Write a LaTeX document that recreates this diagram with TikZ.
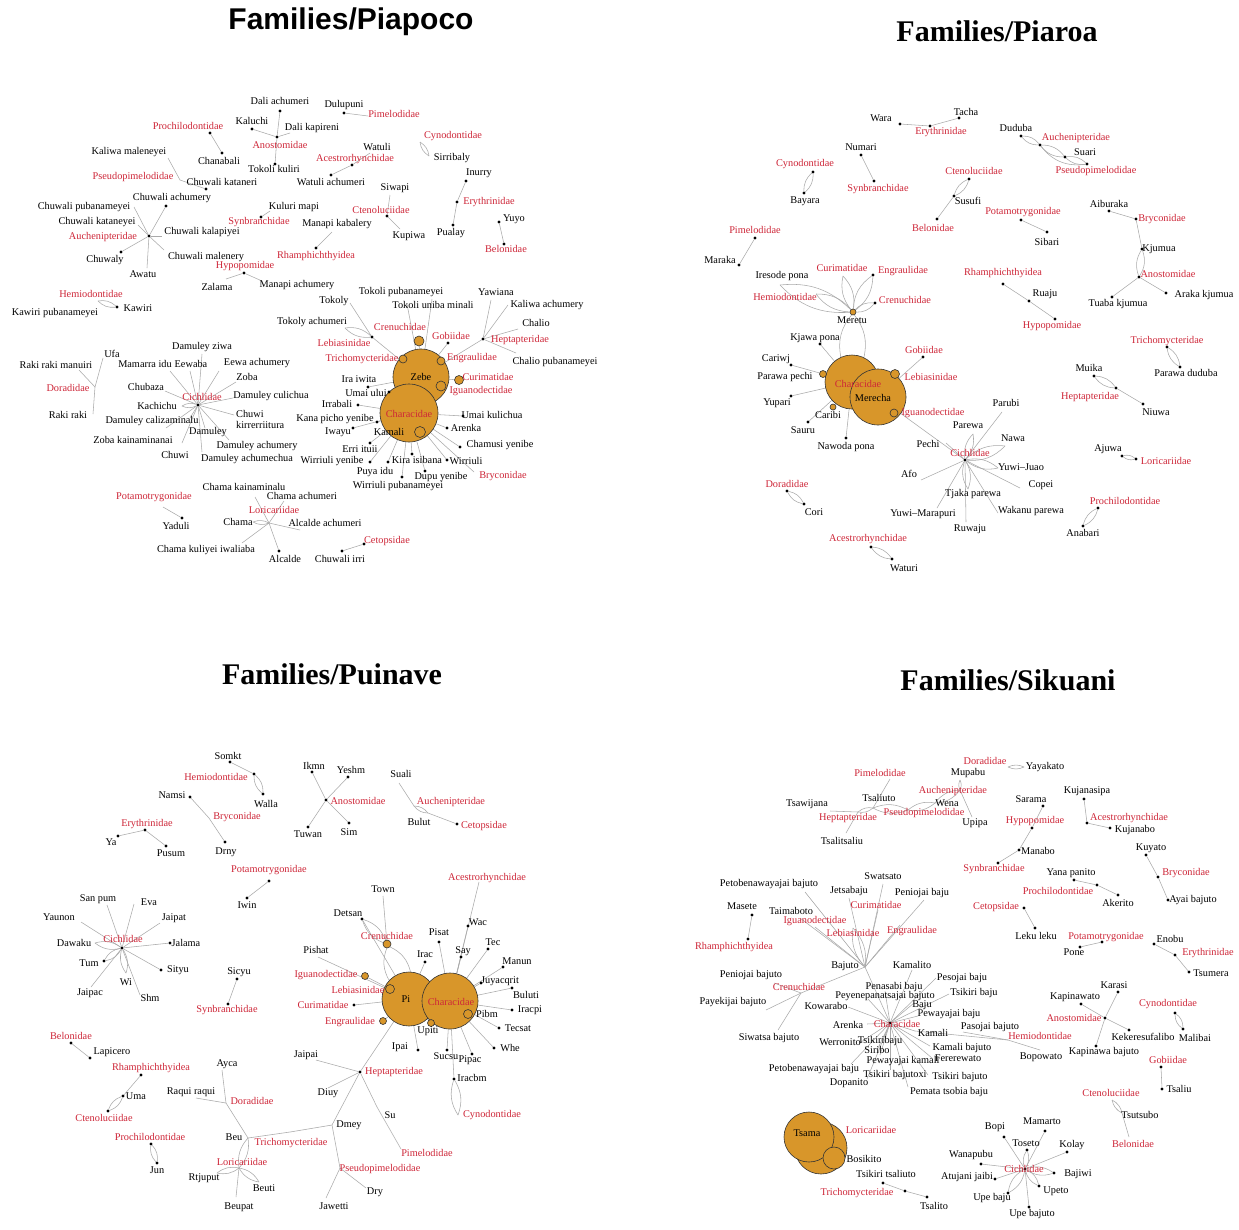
\documentclass[tikz,border=0pt]{standalone}
\usepackage{fontspec}
\setmainfont{Liberation Serif}
\newfontfamily\sansb{Liberation Sans}
\definecolor{fred}{RGB}{206,38,56}
\definecolor{forg}{RGB}{216,150,42}
\definecolor{fedge}{RGB}{170,170,170}
\newcommand\lf{\fontsize{10.3}{11}\selectfont}
\newcommand\Nd[2]{\node[dt] (#1) at (#2) {};}
\newcommand\Nc[2]{\coordinate (#1) at (#2);}
\newcommand\Nt[3]{\node[lb] (#1) at (#2) {#3};}
\newcommand\Nr[3]{\node[lb,text=fred] (#1) at (#2) {#3};}
\newcommand\No[3]{\node[oc,minimum size=#3pt] (#1) at (#2) {};}
\pgfdeclarelayer{bg}
\pgfdeclarelayer{paper}
\pgfsetlayers{paper,bg,main}
\tikzset{
  dt/.style={circle,fill=black,inner sep=0pt,minimum size=3.2pt},
  lb/.style={font=\lf,inner sep=0pt,text=black},
  oc/.style={circle,draw=black!80,fill=forg,line width=0.6pt,inner sep=0pt},
  ed/.style={draw=fedge,line width=0.55pt},
  ttl/.style={font=\fontsize{30}{32}\selectfont\bfseries,inner sep=0pt},
}
\begin{document}
\begin{tikzpicture}[x=1pt,y=-1pt]
\begin{pgfonlayer}{paper}
\fill[white] (0,0) rectangle (1239,1229);
\end{pgfonlayer}
\useasboundingbox (0,0) rectangle (1239,1229);
% ================= Titles
\node[ttl,font=\fontsize{30}{32}\selectfont\sansb\bfseries] (tA) at (351,22) {Families/Piapoco};
\node[ttl] (tB) at (997,31) {Families/Piaroa};
\node[ttl] (tC) at (332,674) {Families/Puinave};
\node[ttl] (tD) at (1008,680) {Families/Sikuani};
% ================= Piapoco circles
\No{aZebe}{421,377}{56}
\No{aChar}{409,413}{58}
\No{aIgu}{441,386}{10}
\No{aKam}{420,432}{11}
\No{aCre}{419,341}{10}
\No{aTri}{403,359}{8}
\No{aEng}{441,361}{8}
\No{aCur}{459,380}{9}
% Piapoco
\Nd{aDA}{280,111} \Nt{aDAt}{280,101}{Dali achumeri}
\Nd{aKal}{252,129} \Nt{aKalt}{252,121}{Kaluchi}
\Nc{aDK}{290,133} \Nt{aDKt}{312,128}{Dali kapireni}
\Nd{aAno}{277,137} \Nr{aAnot}{280,145}{Anostomidae}
\Nd{aTK}{275,164} \Nt{aTKt}{274,169}{Tokoli kuliri}
\Nd{aDul}{344,113} \Nt{aDult}{344,105}{Dulupuni}
\Nc{aPim}{368,116} \Nr{aPimt}{394,114}{Pimelodidae}
\Nd{aPro}{210,133} \Nr{aProt}{188,126}{Prochilodontidae}
\Nd{aCha}{222,153} \Nt{aChat}{219,161}{Chanabali}
\Nc{aWat}{370,153} \Nt{aWatt}{377,147}{Watuli}
\Nd{aAce}{352,165} \Nr{aAcet}{355,159}{Acestrorhynchidae}
\Nd{aWA}{331,175} \Nt{aWAt}{331,182}{Watuli achumeri}
\Nc{aCyn}{420,142} \Nr{aCynt}{453,136}{Cynodontidae}
\Nc{aSir}{429,156} \Nt{aSirt}{452,158}{Sirribaly}
\Nd{aInu}{466,181} \Nt{aInut}{479,173}{Inurry}
\Nd{aEry}{457,202} \Nr{aEryt}{489,202}{Erythrinidae}
\Nd{aPua}{453,225} \Nt{aPuat}{451,233}{Pualay}
\Nd{aYuy}{499,222} \Nt{aYuyt}{514,219}{Yuyo}
\Nd{aBel}{504,244} \Nr{aBelt}{506,249}{Belonidae}
\Nc{aSiw}{390,195} \Nt{aSiwt}{395,188}{Siwapi}
\Nd{aCte}{387,216} \Nr{aCtet}{381,210}{Ctenoluciidae}
\Nc{aKup}{400,229} \Nt{aKupt}{409,236}{Kupiwa}
\Nc{aKM}{270,211} \Nt{aKMt}{294,207}{Kuluri mapi}
\Nd{aSyn}{261,217} \Nr{aSynt}{259,222}{Synbranchidae}
\Nc{aMK}{332,232} \Nt{aMKt}{337,224}{Manapi kabalery}
\Nd{aRha}{316,248} \Nr{aRhat}{316,256}{Rhamphichthyidea}
\Nc{aKMa}{168,158} \Nt{aKMat}{129,152}{Kaliwa maleneyei}
\Nc{aPse}{180,180} \Nr{aPset}{133,177}{Pseudopimelodidae}
\Nd{aCK}{206,189} \Nt{aCKt}{222,182}{Chuwali kataneri}
\Nd{aAuc}{149,236} \Nr{aAuct}{103,237}{Auchenipteridae}
\Nd{aCA}{166,206} \Nt{aCAt}{172,198}{Chuwali achumery}
\Nc{aCP}{134,207} \Nt{aCPt}{84,207}{Chuwali pubanameyei}
\Nc{aCKy}{138,225} \Nt{aCKyt}{97,222}{Chuwali kataneyei}
\Nc{aCKa}{162,236} \Nt{aCKat}{202,232}{Chuwali kalapiyei}
\Nd{aCw}{121,252} \Nt{aCwt}{105,260}{Chuwaly}
\Nc{aCM}{164,250} \Nt{aCMt}{206,257}{Chuwali malenery}
\Nc{aAwa}{147,268} \Nt{aAwat}{143,274}{Awatu}
\Nd{aHyp}{244,273} \Nr{aHypt}{245,266}{Hypopomidae}
\Nc{aZal}{226,279} \Nt{aZalt}{217,287}{Zalama}
\Nc{aMA}{262,281} \Nt{aMAt}{297,285}{Manapi achumery}
\Nc{aHem}{98,301} \Nr{aHemt}{91,294}{Hemiodontidae}
\Nd{aKaw}{117,307} \Nt{aKawt}{138,308}{Kawiri}
\Nt{aKPt}{55,313}{Kawiri pubanameyei}
\Nc{aDor}{95,387} \Nr{aDort}{68,388}{Doradidae}
\Nc{aUfa}{103,358} \Nt{aUfat}{112,354}{Ufa}
\Nc{aRRM}{79,370} \Nt{aRRMt}{56,365}{Raki raki manuiri}
\Nc{aRR}{93,414} \Nt{aRRt}{68,415}{Raki raki}
\Nd{aCic}{198,405} \Nr{aCict}{202,397}{Cichlidae}
\Nc{aDZ}{202,354} \Nt{aDZt}{202,347}{Damuley ziwa}
\Nc{aMI}{170,371} \Nt{aMIt}{145,364}{Mamarra idu}
\Nc{aEw}{190,371} \Nt{aEwt}{191,364}{Eewaba}
\Nc{aEA}{219,371} \Nt{aEAt}{257,363}{Eewa achumery}
\Nc{aZob}{236,382} \Nt{aZobt}{247,377}{Zoba}
\Nc{aChb}{165,391} \Nt{aChbt}{146,387}{Chubaza}
\Nc{aDC}{233,398} \Nt{aDCt}{271,396}{Damuley culichua}
\Nc{aKac}{182,406} \Nt{aKact}{157,406}{Kachichu}
\Nc{aCK2}{234,415} \node[lb,align=left,anchor=west] (aCK2t) at (236,419) {Chuwi\\kirrerriitura};
\Nc{aDCz}{190,418} \Nt{aDCzt}{152,421}{Damuley calizaminalu}
\Nc{aZK}{166,428} \Nt{aZKt}{133,440}{Zoba kainaminanai}
\Nc{aDam}{205,428} \Nt{aDamt}{208,432}{Damuley}
\Nc{aDAc}{229,440} \Nt{aDAct}{257,446}{Damuley achumery}
\Nc{aChw}{182,443} \Nt{aChwt}{175,455}{Chuwi}
\Nc{aDAm}{202,452} \Nt{aDAmt}{247,459}{Damuley achumechua}
\Nt{aZebet}{421,377}{Zebe}
\Nr{aChart}{409,414}{Characidae}
\Nr{aIgut}{481,391}{Iguanodectidae}
\Nt{aKamt}{389,432}{Kamali}
\Nr{aCret}{400,327}{Crenuchidae}
\Nd{aGob}{448,343} \Nr{aGobt}{451,336}{Gobiidae}
\Nr{aTrit}{362,359}{Trichomycteridae}
\Nr{aEngt}{472,358}{Engraulidae}
\Nr{aCurt}{488,377}{Curimatidae}
\Nd{aII}{368,387} \Nt{aIIt}{359,379}{Ira iwita}
\Nd{aUU}{389,392} \Nt{aUUt}{366,393}{Umai ului}
\Nd{aIrr}{358,405} \Nt{aIrrt}{337,404}{Irrabali}
\Nd{aKPY}{377,422} \Nt{aKPYt}{335,419}{Kana picho yenibe}
\Nd{aUK}{463,416} \Nt{aUKt}{492,415}{Umai kulichua}
\Nd{aAre}{447,428} \Nt{aAret}{466,428}{Arenka}
\Nd{aIwa}{353,428} \Nt{aIwat}{338,432}{Iwayu}
\Nd{aCY}{460,447} \Nt{aCYt}{500,445}{Chamusi yenibe}
\Nd{aEI}{370,443} \Nt{aEIt}{360,449}{Erri ituii}
\Nd{aWY}{370,462} \Nt{aWYt}{332,461}{Wirriuli yenibe}
\Nd{aKI}{388,462} \Nt{aKIt}{417,460}{Kira isibana}
\Nd{aPI}{412,454} \Nt{aPIt}{375,472}{Puya idu}
\Nd{aWir}{447,460} \Nt{aWirt}{466,461}{Wirriuli}
\Nd{aDY}{425,471} \Nt{aDYt}{441,477}{Dupu yenibe}
\Nc{aBry}{474,472} \Nr{aBryt}{503,476}{Bryconidae}
\Nd{aWP}{402,477} \Nt{aWPt}{398,486}{Wirriuli pubanameyei}
\Nc{aTok}{350,303} \Nt{aTokt}{334,301}{Tokoly}
\Nc{aTP}{407,304} \Nt{aTPt}{401,292}{Tokoli pubanameyei}
\Nc{aTU}{432,299} \Nt{aTUt}{433,305}{Tokoli uniba minali}
\Nc{aTA}{345,328} \Nt{aTAt}{312,322}{Tokoly achumeri}
\Nd{aLeb}{372,337} \Nr{aLebt}{344,343}{Lebiasinidae}
\Nd{aHep}{483,339} \Nr{aHept}{520,340}{Heptapteridae}
\Nc{aYaw}{491,300} \Nt{aYawt}{496,292}{Yawiana}
\Nc{aKA}{508,305} \Nt{aKAt}{547,305}{Kaliwa achumery}
\Nc{aChl}{518,329} \Nt{aChlt}{536,323}{Chalio}
\Nc{aCPu}{516,353} \Nt{aCPut}{555,362}{Chalio pubanameyei}
\Nc{aPot}{163,507} \Nr{aPott}{154,497}{Potamotrygonidae}
\Nd{aYad}{182,518} \Nt{aYadt}{176,526}{Yaduli}
\Nc{aLor}{269,523} \Nr{aLort}{274,510}{Loricariidae}
\Nc{aCKn}{255,497} \Nt{aCKnt}{244,487}{Chama kainaminalu}
\Nc{aCAc}{284,501} \Nt{aCAct}{302,496}{Chama achumeri}
\Nc{aCh}{253,522} \Nt{aCht}{238,522}{Chama}
\Nc{aAA}{300,530} \Nt{aAAt}{325,523}{Alcalde achumeri}
\Nc{aCKI}{242,543} \Nt{aCKIt}{206,550}{Chama kuliyei iwaliaba}
\Nd{aAlc}{279,551} \Nt{aAlct}{285,559}{Alcalde}
\Nd{aCet}{364,544} \Nr{aCett}{387,541}{Cetopsidae}
\Nd{aCI}{342,551} \Nt{aCIt}{340,559}{Chuwali irri}
% ================= Piaroa circles
\No{bChar}{852,382}{54}
\No{bMerc}{878,397}{56}
\No{bMer}{853,312}{6}
\No{bPP}{823,374}{7}
\No{bLeb}{895,374}{9}
\No{bIgu}{894,413}{8}
\No{bCarib}{833,407}{6}
% Piaroa
\Nd{bWar}{900,124} \Nt{bWart}{881,118}{Wara}
\Nd{bEry}{930,126} \Nr{bEryt}{941,132}{Erythrinidae}
\Nd{bTac}{959,118} \Nt{bTact}{966,112}{Tacha}
\Nd{bDud}{1021,136} \Nt{bDudt}{1016,128}{Duduba}
\Nd{bAuc}{1040,145} \Nr{bAuct}{1076,138}{Auchenipteridae}
\Nd{bSua}{1065,157} \Nt{bSuat}{1085,152}{Suari}
\Nd{bPse}{1087,164} \Nr{bPset}{1096,171}{Pseudopimelodidae}
\Nd{bNum}{861,155} \Nt{bNumt}{861,147}{Numari}
\Nd{bSyn}{874,181} \Nr{bSynt}{878,189}{Synbranchidae}
\Nd{bCyn}{813,172} \Nr{bCynt}{805,164}{Cynodontidae}
\Nd{bBay}{804,193} \Nt{bBayt}{805,201}{Bayara}
\Nd{bCte}{969,179} \Nr{bCtet}{974,171}{Ctenoluciidae}
\Nd{bSus}{954,196} \Nt{bSust}{968,201}{Susufi}
\Nd{bBel}{937,219} \Nr{bBelt}{933,228}{Belonidae}
\Nd{bPot}{1021,220} \Nr{bPott}{1023,212}{Potamotrygonidae}
\Nd{bSib}{1047,232} \Nt{bSibt}{1047,242}{Sibari}
\Nd{bAib}{1109,211} \Nt{bAibt}{1109,204}{Aiburaka}
\Nd{bBry}{1136,219} \Nr{bBryt}{1162,219}{Bryconidae}
\Nd{bKju}{1142,249} \Nt{bKjut}{1159,249}{Kjumua}
\Nd{bPim}{755,238} \Nr{bPimt}{755,230}{Pimelodidae}
\Nd{bMar}{739,265} \Nt{bMart}{720,260}{Maraka}
\Nd{bAno}{1139,277} \Nr{bAnot}{1168,274}{Anostomidae}
\Nd{bTK}{1112,297} \Nt{bTKt}{1118,304}{Tuaba kjumua}
\Nd{bAK}{1166,293} \Nt{bAKt}{1204,295}{Araka kjumua}
\Nc{bIP}{780,285} \Nt{bIPt}{782,276}{Iresode pona}
\Nc{bCur}{843,276} \Nr{bCurt}{842,268}{Curimatidae}
\Nd{bEng}{873,275} \Nr{bEngt}{903,271}{Engraulidae}
\Nc{bHem}{816,294} \Nr{bHemt}{785,297}{Hemiodontidae}
\Nd{bCre}{875,303} \Nr{bCret}{905,300}{Crenuchidae}
\Nt{bMert}{852,320}{Meretu}
\Nd{bKP}{820,344} \Nt{bKPt}{815,338}{Kjawa pona}
\Nd{bCar}{791,365} \Nt{bCart}{776,359}{Cariwj}
\Nt{bPPt}{785,377}{Parawa pechi}
\Nd{bYup}{791,396} \Nt{bYupt}{777,403}{Yupari}
\Nr{bChart}{858,384}{Characidae}
\Nt{bMerct}{873,398}{Merecha}
\Nd{bGob}{923,357} \Nr{bGobt}{924,350}{Gobiidae}
\Nr{bLebt}{931,377}{Lebiasinidae}
\Nr{bIgut}{933,413}{Iguanodectidae}
\Nt{bCaribt}{828,415}{Caribi}
\Nd{bSau}{808,422} \Nt{bSaut}{803,430}{Sauru}
\Nd{bNP}{846,438} \Nt{bNPt}{846,447}{Nawoda pona}
\Nd{bRha}{1003,284} \Nr{bRhat}{1003,273}{Rhamphichthyidea}
\Nd{bRua}{1029,301} \Nt{bRuat}{1045,294}{Ruaju}
\Nd{bHyp}{1055,319} \Nr{bHypt}{1052,326}{Hypopomidae}
\Nd{bTri}{1167,347} \Nr{bTrit}{1167,341}{Trichomycteridae}
\Nd{bPD}{1180,367} \Nt{bPDt}{1186,373}{Parawa duduba}
\Nd{bMui}{1094,376} \Nt{bMuit}{1089,368}{Muika}
\Nd{bHep}{1116,388} \Nr{bHept}{1090,397}{Heptapteridae}
\Nd{bNiu}{1143,404} \Nt{bNiut}{1156,412}{Niuwa}
\Nc{bPar}{1002,412} \Nt{bPart}{1006,403}{Parubi}
\Nd{bCic}{965,460} \Nr{bCict}{970,453}{Cichlidae}
\Nc{bPrw}{973,434} \Nt{bPrwt}{968,425}{Parewa}
\Nc{bPec}{946,443} \Nt{bPect}{928,444}{Pechi}
\Nc{bNaw}{1005,446} \Nt{bNawt}{1013,438}{Nawa}
\Nc{bYJ}{998,468} \Nt{bYJt}{1021,467}{Yuwi–Juao}
\Nc{bCop}{1020,488} \Nt{bCopt}{1041,485}{Copei}
\Nc{bAfo}{921,480} \Nt{bAfot}{909,474}{Afo}
\Nc{bTP}{968,489} \Nt{bTPt}{973,494}{Tjaka parewa}
\Nc{bYM}{937,508} \Nt{bYMt}{923,514}{Yuwi–Marapuri}
\Nc{bWP}{998,513} \Nt{bWPt}{1031,511}{Wakanu parewa}
\Nc{bRuw}{966,522} \Nt{bRuwt}{970,529}{Ruwaju}
\Nd{bDor}{787,491} \Nr{bDort}{787,484}{Doradidae}
\Nd{bCor}{804,504} \Nt{bCort}{814,512}{Cori}
\Nd{bAce}{871,547} \Nr{bAcet}{868,539}{Acestrorhynchidae}
\Nd{bWat}{892,559} \Nt{bWatt}{904,568}{Waturi}
\Nd{bAju}{1122,456} \Nt{bAjut}{1108,449}{Ajuwa}
\Nd{bLor}{1136,459} \Nr{bLort}{1166,461}{Loricariidae}
\Nd{bPro}{1098,508} \Nr{bProt}{1125,501}{Prochilodontidae}
\Nd{bAna}{1083,526} \Nt{bAnat}{1083,533}{Anabari}
% ================= Puinave circles
\No{cPi}{409,999}{54}
\No{cChar}{450,1001}{56}
\No{cCre}{387,944}{8}
\No{cIgu}{365,976}{7}
\No{cLeb}{390,989}{9}
\No{cEng}{383,1021}{7}
\No{cUpi}{431,1023}{7}
\No{cPib}{468,1014}{9}
% Puinave
\Nd{cSom}{230,762} \Nt{cSomt}{228,756}{Somkt}
\Nd{cHem}{254,774} \Nr{cHemt}{216,777}{Hemiodontidae}
\Nd{cWal}{263,794} \Nt{cWalt}{266,804}{Walla}
\Nd{cNam}{190,797} \Nt{cNamt}{172,795}{Namsi}
\Nc{cBry}{209,818} \Nr{cBryt}{237,817}{Bryconidae}
\Nd{cDrn}{225,842} \Nt{cDrnt}{226,852}{Drny}
\Nd{cEry}{145,830} \Nr{cEryt}{147,824}{Erythrinidae}
\Nd{cYa}{118,836} \Nt{cYat}{111,842}{Ya}
\Nd{cPus}{166,846} \Nt{cPust}{171,853}{Pusum}
\Nd{cIkm}{312,772} \Nt{cIkmt}{314,766}{Ikmn}
\Nd{cYes}{348,777} \Nt{cYest}{351,770}{Yeshm}
\Nd{cAno}{326,800} \Nr{cAnot}{358,801}{Anostomidae}
\Nd{cTuw}{308,827} \Nt{cTuwt}{308,834}{Tuwan}
\Nd{cSim}{349,823} \Nt{cSimt}{349,832}{Sim}
\Nc{cSua}{399,783} \Nt{cSuat}{401,774}{Suali}
\Nc{cAuc}{414,806} \Nr{cAuct}{451,802}{Auchenipteridae}
\Nc{cBul}{428,813} \Nt{cBult}{419,822}{Bulut}
\Nd{cCet}{457,824} \Nr{cCett}{484,826}{Cetopsidae}
\Nd{cPot}{269,881} \Nr{cPott}{269,870}{Potamotrygonidae}
\Nd{cIwi}{247,898} \Nt{cIwit}{247,905}{Iwin}
\Nc{cAce}{479,882} \Nr{cAcet}{487,878}{Acestrorhynchidae}
\Nc{cTow}{383,896} \Nt{cTowt}{383,889}{Town}
\Nd{cCic}{122,948} \Nr{cCict}{123,939}{Cichlidae}
\Nc{cSP}{107,905} \Nt{cSPt}{98,899}{San pum}
\Nc{cEva}{134,904} \Nt{cEvat}{149,902}{Eva}
\Nc{cYau}{81,922} \Nt{cYaut}{59,917}{Yaunon}
\Nc{cJai}{160,923} \Nt{cJait}{174,918}{Jaipat}
\Nc{cDaw}{95,943} \Nt{cDawt}{74,943}{Dawaku}
\Nd{cJal}{170,943} \Nt{cJalt}{186,943}{Jalama}
\Nd{cTum}{104,961} \Nt{cTumt}{89,963}{Tum}
\Nd{cSit}{161,970} \Nt{cSitt}{178,970}{Sityu}
\Nc{cWi}{126,973} \Nt{cWit}{126,982}{Wi}
\Nc{cJpc}{91,987} \Nt{cJpct}{90,993}{Jaipac}
\Nc{cShm}{140,995} \Nt{cShmt}{150,998}{Shm}
\Nd{cSic}{237,979} \Nt{cSict}{239,972}{Sicyu}
\Nd{cSyn}{228,1004} \Nr{cSynt}{227,1010}{Synbranchidae}
\Nd{cBel}{71,1043} \Nr{cBelt}{71,1036}{Belonidae}
\Nd{cLap}{90,1058} \Nt{cLapt}{112,1052}{Lapicero}
\Nt{cPit}{406,999}{Pi}
\Nr{cChart}{451,1002}{Characidae}
\Nr{cCret}{387,936}{Crenuchidae}
\Nr{cIgut}{326,975}{Iguanodectidae}
\Nr{cLebt}{358,990}{Lebiasinidae}
\Nd{cCur}{354,1005} \Nr{cCurt}{323,1005}{Curimatidae}
\Nr{cEngt}{350,1022}{Engraulidae}
\Nt{cUpit}{428,1031}{Upiti}
\Nt{cPibt}{487,1014}{Pibm}
\Nd{cDet}{362,919} \Nt{cDett}{348,913}{Detsan}
\Nc{cPsh}{318,957} \Nt{cPsht}{316,950}{Pishat}
\Nd{cPis}{439,942} \Nt{cPist}{439,932}{Pisat}
\Nd{cIra}{425,962} \Nt{cIrat}{425,954}{Irac}
\Nd{cSay}{461,957} \Nt{cSayt}{463,951}{Say}
\Nd{cWac}{468,926} \Nt{cWact}{478,922}{Wac}
\Nd{cTec}{488,949} \Nt{cTect}{493,942}{Tec}
\Nd{cMan}{503,967} \Nt{cMant}{517,961}{Manun}
\Nd{cJuy}{481,983} \Nt{cJuyt}{500,981}{Juyacqrit}
\Nd{cBul2}{512,988} \Nt{cBul2t}{526,995}{Buluti}
\Nd{cIrp}{512,1010} \Nt{cIrpt}{530,1010}{Iracpi}
\Nd{cTes}{499,1028} \Nt{cTest}{518,1028}{Tecsat}
\Nd{cWhe}{494,1048} \Nt{cWhet}{510,1048}{Whe}
\Nd{cSuc}{447,1050} \Nt{cSuct}{446,1056}{Sucsu}
\Nd{cPip}{472,1054} \Nt{cPipt}{470,1060}{Pipac}
\Nd{cIpa}{418,1050} \Nt{cIpat}{400,1047}{Ipai}
\Nc{cJpi}{316,1060} \Nt{cJpit}{306,1055}{Jaipai}
\Nd{cHep}{360,1072} \Nr{cHept}{394,1072}{Heptapteridae}
\Nc{cDiu}{328,1088} \Nt{cDiut}{328,1093}{Diuy}
\Nc{cSu}{377,1107} \Nt{cSut}{390,1115}{Su}
\Nc{cPim}{401,1149} \Nr{cPimt}{427,1153}{Pimelodidae}
\Nc{cDme}{332,1125} \Nt{cDmet}{349,1125}{Dmey}
\Nc{cPse}{340,1168} \Nr{cPset}{380,1169}{Pseudopimelodidae}
\Nc{cDry}{366,1188} \Nt{cDryt}{375,1192}{Dry}
\Nc{cJaw}{326,1198} \Nt{cJawt}{334,1206}{Jawetti}
\Nd{cRha}{141,1075} \Nr{cRhat}{151,1068}{Rhamphichthyidea}
\Nd{cUma}{123,1096} \Nt{cUmat}{136,1096}{Uma}
\Nd{cCte}{108,1111} \Nr{cCtet}{104,1118}{Ctenoluciidae}
\Nd{cPro}{151,1144} \Nr{cProt}{150,1137}{Prochilodontidae}
\Nd{cJun}{157,1163} \Nt{cJunt}{157,1170}{Jun}
\Nc{cAyc}{222,1070} \Nt{cAyct}{227,1064}{Ayca}
\Nc{cRR}{196,1098} \Nt{cRRt}{191,1092}{Raqui raqui}
\Nc{cDor}{226,1103} \Nr{cDort}{252,1101}{Doradidae}
\Nc{cBeu}{248,1138} \Nt{cBeut}{234,1137}{Beu}
\Nc{cTri}{290,1132} \Nr{cTrit}{291,1143}{Trichomycteridae}
\Nc{cLor}{239,1168} \Nr{cLort}{242,1162}{Loricariidae}
\Nc{cRtj}{217,1173} \Nt{cRtjt}{204,1178}{Rtjuput}
\Nc{cBti}{259,1182} \Nt{cBtit}{264,1188}{Beuti}
\Nc{cBpt}{236,1197} \Nt{cBptt}{239,1207}{Beupat}
\Nd{cIrb}{454,1079} \Nt{cIrbt}{472,1078}{Iracbm}
\Nc{cCyn}{458,1115} \Nr{cCynt}{492,1115}{Cynodontidae}
% ================= Sikuani circles
\No{sLorC}{821,1148}{52}
\No{sTsaC}{809,1137}{50}
\No{sBos}{834,1158}{22}
% Sikuani
\Nc{sDor}{1008,767} \Nr{sDort}{985,761}{Doradidae}
\Nc{sYay}{1024,767} \Nt{sYayt}{1045,767}{Yayakato}
\Nc{sMup}{960,780} \Nt{sMupt}{968,773}{Mupabu}
\Nc{sPim}{890,779} \Nr{sPimt}{880,773}{Pimelodidae}
\Nc{sAuc}{960,790} \Nr{sAuct}{953,791}{Auchenipteridae}
\Nc{sTsa}{873,808} \Nt{sTsat}{879,798}{Tsaliuto}
\Nc{sWen}{935,803} \Nt{sWent}{947,803}{Wena}
\Nc{sPse}{908,810} \Nr{sPset}{924,813}{Pseudopimelodidae}
\Nc{sTsw}{830,811} \Nt{sTswt}{807,804}{Tsawijana}
\Nc{sHep}{858,812} \Nr{sHept}{848,818}{Heptapteridae}
\Nc{sUpi}{972,817} \Nt{sUpit}{975,823}{Upipa}
\Nc{sTst}{846,833} \Nt{sTstt}{842,841}{Tsalitsaliu}
\Nd{sSar}{1043,806} \Nt{sSart}{1031,799}{Sarama}
\Nd{sHyp}{1032,828} \Nr{sHypt}{1035,821}{Hypopomidae}
\Nd{sMan}{1019,850} \Nt{sMant}{1038,851}{Manabo}
\Nd{sSyn}{998,863} \Nr{sSynt}{994,869}{Synbranchidae}
\Nd{sKns}{1084,799} \Nt{sKnst}{1087,791}{Kujanasipa}
\Nd{sAce}{1087,823} \Nr{sAcet}{1129,818}{Acestrorhynchidae}
\Nd{sKnb}{1110,828} \Nt{sKnbt}{1135,830}{Kujanabo}
\Nd{sKuy}{1146,855} \Nt{sKuyt}{1151,848}{Kuyato}
\Nd{sBry}{1158,877} \Nr{sBryt}{1186,873}{Bryconidae}
\Nd{sAB}{1168,900} \Nt{sABt}{1193,900}{Ayai bajuto}
\Nd{sYP}{1074,880} \Nt{sYPt}{1071,873}{Yana panito}
\Nd{sPro}{1097,885} \Nr{sProt}{1058,891}{Prochilodontidae}
\Nd{sAke}{1118,895} \Nt{sAket}{1118,903}{Akerito}
\Nd{sCet}{1024,908} \Nr{sCett}{996,907}{Cetopsidae}
\Nd{sLL}{1035,928} \Nt{sLLt}{1036,936}{Leku leku}
\Nd{sPot}{1102,942} \Nr{sPott}{1106,937}{Potamotrygonidae}
\Nd{sPon}{1080,947} \Nt{sPont}{1074,952}{Pone}
\Nd{sEno}{1154,944} \Nt{sEnot}{1170,939}{Enobu}
\Nd{sEry}{1175,955} \Nr{sEryt}{1208,953}{Erythrinidae}
\Nd{sTsu}{1189,972} \Nt{sTsut}{1211,973}{Tsumera}
\Nd{sKar}{1118,992} \Nt{sKart}{1114,985}{Karasi}
\Nd{sKpw}{1081,1004} \Nt{sKpwt}{1075,997}{Kapinawato}
\Nd{sAno}{1105,1018} \Nr{sAnot}{1074,1018}{Anostomidae}
\Nd{sKek}{1129,1030} \Nt{sKekt}{1143,1037}{Kekeresufalibo}
\Nd{sKpb}{1096,1046} \Nt{sKpbt}{1104,1052}{Kapinawa bajuto}
\Nd{sCyn}{1175,1013} \Nr{sCynt}{1168,1004}{Cynodontidae}
\Nd{sMal}{1183,1029} \Nt{sMalt}{1195,1038}{Malibai}
\Nd{sGob}{1161,1067} \Nr{sGobt}{1168,1060}{Gobiidae}
\Nd{sTsl}{1162,1089} \Nt{sTslt}{1179,1089}{Tsaliu}
\Nc{sCte}{1112,1100} \Nr{sCtet}{1111,1093}{Ctenoluciidae}
\Nc{sTsb}{1122,1113} \Nt{sTsbt}{1140,1115}{Tsutsubo}
\Nc{sBel}{1129,1137} \Nr{sBelt}{1133,1144}{Belonidae}
\Nc{sPBj}{805,892} \Nt{sPBjt}{769,884}{Petobenawayajai bajuto}
\Nc{sSwa}{883,884} \Nt{sSwat}{883,876}{Swatsato}
\Nc{sJet}{849,898} \Nt{sJett}{849,891}{Jetsabaju}
\Nc{sPJb}{924,900} \Nt{sPJbt}{922,893}{Peniojai baju}
\Nd{sMas}{752,915} \Nt{sMast}{742,906}{Masete}
\Nd{sRha}{748,939} \Nr{sRhat}{734,947}{Rhamphichthyidea}
\Nc{sTai}{800,918} \Nt{sTait}{791,911}{Taimaboto}
\Nc{sCur}{878,910} \Nr{sCurt}{876,905}{Curimatidae}
\Nc{sIgu}{815,927} \Nr{sIgut}{815,921}{Iguanodectidae}
\Nc{sLeb}{853,928} \Nr{sLebt}{853,933}{Lebiasinidae}
\Nc{sEng}{900,925} \Nr{sEngt}{912,931}{Engraulidae}
\Nc{sBaj}{865,967} \Nt{sBajt}{845,966}{Bajuto}
\Nc{sKml}{912,970} \Nt{sKmlt}{912,965}{Kamalito}
\Nc{sPej}{936,978} \Nt{sPejt}{962,978}{Pesojai baju}
\Nc{sPeb}{885,991} \Nt{sPebt}{894,987}{Penasabi baju}
\Nc{sPey}{868,999} \Nt{sPeyt}{885,996}{Peyenepanatsajai bajuto}
\Nc{sTkj}{949,994} \Nt{sTkjt}{974,993}{Tsikiri baju}
\Nc{sKow}{848,1007} \Nt{sKowt}{826,1006}{Kowarabo}
\Nc{sBju}{914,1003} \Nt{sBjut}{922,1005}{Baju}
\Nc{sPwb}{918,1016} \Nt{sPwbt}{949,1014}{Pewayajai baju}
\Nc{sAre}{867,1024} \Nt{sAret}{848,1025}{Arenka}
\Nd{sChar}{890,1023} \Nr{sChart}{897,1024}{Characidae}
\Nc{sKam}{915,1031} \Nt{sKamt}{933,1033}{Kamali}
\Nc{sPaj}{963,1032} \Nt{sPajt}{990,1027}{Pasojai bajuto}
\Nc{sHem}{1008,1040} \Nr{sHemt}{1040,1036}{Hemiodontidae}
\Nc{sBop}{1040,1050} \Nt{sBopt}{1041,1057}{Bopowato}
\Nc{sWer}{861,1042} \Nt{sWert}{840,1042}{Werronito}
\Nc{sTkb}{885,1036} \Nt{sTkbt}{880,1041}{Tsikiribaju}
\Nc{sSir}{878,1048} \Nt{sSirt}{877,1050}{Siribo}
\Nc{sKbj}{930,1046} \Nt{sKbjt}{962,1048}{Kamali bajuto}
\Nc{sPwk}{880,1055} \Nt{sPwkt}{903,1061}{Pewayajai kamali}
\Nc{sFer}{932,1058} \Nt{sFert}{958,1058}{Fererewato}
\Nc{sPBb}{851,1064} \Nt{sPBbt}{814,1069}{Petobenawayajai baju}
\Nc{sDop}{867,1079} \Nt{sDopt}{849,1083}{Dopanito}
\Nc{sTbx}{890,1070} \Nt{sTbxt}{895,1075}{Tsikiri bajutoxi}
\Nc{sTbj}{928,1075} \Nt{sTbjt}{960,1077}{Tsikiri bajuto}
\Nc{sPtb}{908,1087} \Nt{sPtbt}{949,1092}{Pemata tsobia baju}
\Nc{sPjb}{774,983} \Nt{sPjbt}{751,975}{Peniojai bajuto}
\Nc{sCre}{801,993} \Nr{sCret}{799,987}{Crenuchidae}
\Nc{sPkb}{766,1010} \Nt{sPkbt}{733,1002}{Payekijai bajuto}
\Nc{sSwb}{778,1030} \Nt{sSwbt}{769,1038}{Siwatsa bajuto}
\Nt{sTsaCt}{807,1133}{Tsama}
\Nt{sBost}{864,1159}{Bosikito}
\Nr{sLort}{871,1130}{Loricariidae}
\Nd{sTT}{883,1183} \Nt{sTTt}{886,1174}{Tsikiri tsaliuto}
\Nd{sTri}{905,1191} \Nr{sTrit}{857,1193}{Trichomycteridae}
\Nd{sTsl2}{927,1197} \Nt{sTsl2t}{934,1206}{Tsalito}
\Nd{sCic}{1025,1169} \Nr{sCict}{1024,1169}{Cichlidae}
\Nd{sBop2}{1004,1137} \Nt{sBop2t}{995,1127}{Bopi}
\Nd{sMam}{1045,1131} \Nt{sMamt}{1042,1121}{Mamarto}
\Nd{sTos}{1027,1150} \Nt{sTost}{1026,1143}{Toseto}
\Nd{sKol}{1067,1152} \Nt{sKolt}{1072,1145}{Kolay}
\Nd{sWan}{981,1164} \Nt{sWant}{971,1155}{Wanapubu}
\Nd{sBaw}{1054,1173} \Nt{sBawt}{1078,1174}{Bajiwi}
\Nd{sAtj}{995,1179} \Nt{sAtjt}{967,1177}{Atujani jaibi}
\Nd{sUpt}{1039,1186} \Nt{sUptt}{1056,1191}{Upeto}
\Nd{sUpb}{1008,1193} \Nt{sUpbt}{992,1198}{Upe baju}
\Nd{sUpj}{1029,1207} \Nt{sUpjt}{1032,1214}{Upe bajuto}
% ================= Edges
\begin{pgfonlayer}{bg}
\foreach \a/\b in {aAno/aDA,aAno/aKal,aAno/aDK,aAno/aTK,aDul/aPim,aPro/aCha,aAce/aWA,aAce/aWat,aInu/aEry,aEry/aPua,aYuy/aBel,aSiw/aCte,aCte/aKup,aKM/aSyn,aMK/aRha,aPse/aKMa,aPse/aCK,aAuc/aCA,aAuc/aCP,aAuc/aCKy,aAuc/aCKa,aAuc/aCw,aAuc/aCM,aAuc/aAwa,aHyp/aZal,aHyp/aMA,aDor/aUfa,aDor/aRRM,aDor/aRR,aCic/aDZ,aCic/aMI,aCic/aEw,aCic/aEA,aCic/aZob,aCic/aChb,aCic/aDC,aCic/aCK2,aCic/aDCz,aCic/aZK,aCic/aDam,aCic/aDAc,aCic/aChw,aCic/aDAm,aZebe/aCre,aZebe/aGob,aZebe/aTri,aZebe/aEng,aZebe/aCur,aZebe/aII,aZebe/aUU,aZebe/aLeb,aZebe/aTP,aZebe/aTU,aZebe/aHep,aChar/aIrr,aChar/aKPY,aChar/aUK,aChar/aAre,aChar/aIwa,aChar/aCY,aChar/aEI,aChar/aWY,aChar/aKI,aChar/aPI,aChar/aWir,aChar/aDY,aChar/aBry,aChar/aWP,aHep/aYaw,aHep/aKA,aHep/aChl,aHep/aCPu,aPot/aYad,aLor/aCKn,aLor/aCAc,aLor/aAA,aLor/aCKI,aLor/aAlc,aCet/aCI,aLeb/aTok,
bWar/bEry,bEry/bTac,bNum/bSyn,bSus/bBel,bPot/bSib,bAib/bBry,bBry/bKju,bAno/bTK,bAno/bAK,bPim/bMar,bChar/bKP,bChar/bCar,bChar/bPP,bChar/bYup,bChar/bCarib,bChar/bSau,bChar/bNP,bMerc/bGob,bMerc/bLeb,bMerc/bIgu,bMerc/bCic,bPar/bCic,bCic/bPec,bCic/bCop,bCic/bAfo,bCic/bYM,bCic/bWP,bCic/bRuw,bRha/bRua,bRua/bHyp,bHep/bNiu,
cSom/cHem,cNam/cBry,cBry/cDrn,cYa/cEry,cEry/cPus,cAno/cIkm,cAno/cYes,cAno/cTuw,cAno/cSim,cSua/cAuc,cBul/cCet,cPot/cIwi,cCic/cSP,cCic/cEva,cCic/cYau,cCic/cJai,cCic/cJal,cCic/cSit,cCic/cJpc,cCic/cShm,cSic/cSyn,cBel/cLap,cTow/cCre,cAce/cChar,cPi/cIgu,cPi/cLeb,cPi/cCur,cPi/cEng,cPi/cPsh,cPi/cUpi,cPi/cIra,cPi/cIpa,cChar/cPis,cChar/cSay,cChar/cWac,cChar/cTec,cChar/cMan,cChar/cJuy,cChar/cBul2,cChar/cIrp,cChar/cTes,cChar/cWhe,cChar/cSuc,cChar/cPip,cChar/cPib,cChar/cIrb,cPi/cHep,cHep/cJpi,cHep/cDiu,cHep/cSu,cHep/cDme,cSu/cPim,cDme/cTri,cTri/cBeu,cDme/cPse,cPse/cDry,cPse/cJaw,cAyc/cDor,cDor/cBeu,cRR/cDor,cLor/cBpt,cRha/cUma,cDet/cPi,
sAuc/sUpi,sTsw/sHep,sTst/sHep,sPim/sTsa,sSar/sHyp,sHyp/sMan,sMan/sSyn,sKns/sAce,sAce/sKnb,sKuy/sBry,sBry/sAB,sYP/sPro,sPro/sAke,sCet/sLL,sPot/sPon,sEno/sEry,sEry/sTsu,sAno/sKar,sAno/sKpw,sAno/sKek,sAno/sKpb,sGob/sTsl,sTsb/sBel,sMas/sRha,sBaj/sPBj,sBaj/sSwa,sBaj/sJet,sBaj/sPJb,sBaj/sTai,sBaj/sCur,sBaj/sIgu,sBaj/sEng,sBaj/sCre,sBaj/sChar,sCre/sPjb,sCre/sPkb,sCre/sSwb,sChar/sKml,sChar/sPej,sChar/sPeb,sChar/sPey,sChar/sTkj,sChar/sKow,sChar/sBju,sChar/sPwb,sChar/sAre,sChar/sKam,sKam/sHem,sPaj/sHem,sHem/sBop,sChar/sWer,sChar/sTkb,sChar/sSir,sChar/sKbj,sChar/sPwk,sChar/sFer,sChar/sPBb,sChar/sDop,sChar/sTbx,sChar/sTbj,sChar/sPtb,sTT/sTri,sTri/sTsl2,sCic/sBop2,sCic/sMam,sCic/sKol,sCic/sWan,sCic/sAtj,sCic/sUpj}
  {\draw[ed] (\a) -- (\b);}
\foreach \a/\b in {aCyn/aSir,aHem/aKaw,aCic/aKac,aLor/aCh,aLeb/aTA,
bDud/bAuc,bAuc/bSua,bSua/bPse,bCyn/bBay,bCte/bSus,bKju/bAno,bMer/bCur,bMer/bEng,bMer/bCre,bMer/bChar,bCic/bPrw,bCic/bNaw,bCic/bYJ,bCic/bTP,bTri/bPD,bMui/bHep,bDor/bCor,bAce/bWat,bAju/bLor,bPro/bAna,bMer/bIP,bMer/bHem,
cHem/cWal,cAuc/cBul,cCic/cDaw,cCic/cTum,cCic/cWi,cPi/cCre,cDet/cCre,cBeu/cLor,cLor/cRtj,cLor/cBti,cUma/cCte,cPro/cJun,cIrb/cCyn,
sDor/sYay,sMup/sAuc,sAuc/sWen,sWen/sPse,sPse/sTsa,sTsa/sHep,sCyn/sMal,sCte/sTsb,sBaj/sLeb,sCic/sTos,sCic/sBaw,sCic/sUpt,sCic/sUpb}
  {\draw[ed] (\a) to[bend left=25] (\b); \draw[ed] (\a) to[bend right=25] (\b);}
\draw[ed] (bAuc) to[bend right=30] (bPse);
\end{pgfonlayer}
\end{tikzpicture}
\end{document}
